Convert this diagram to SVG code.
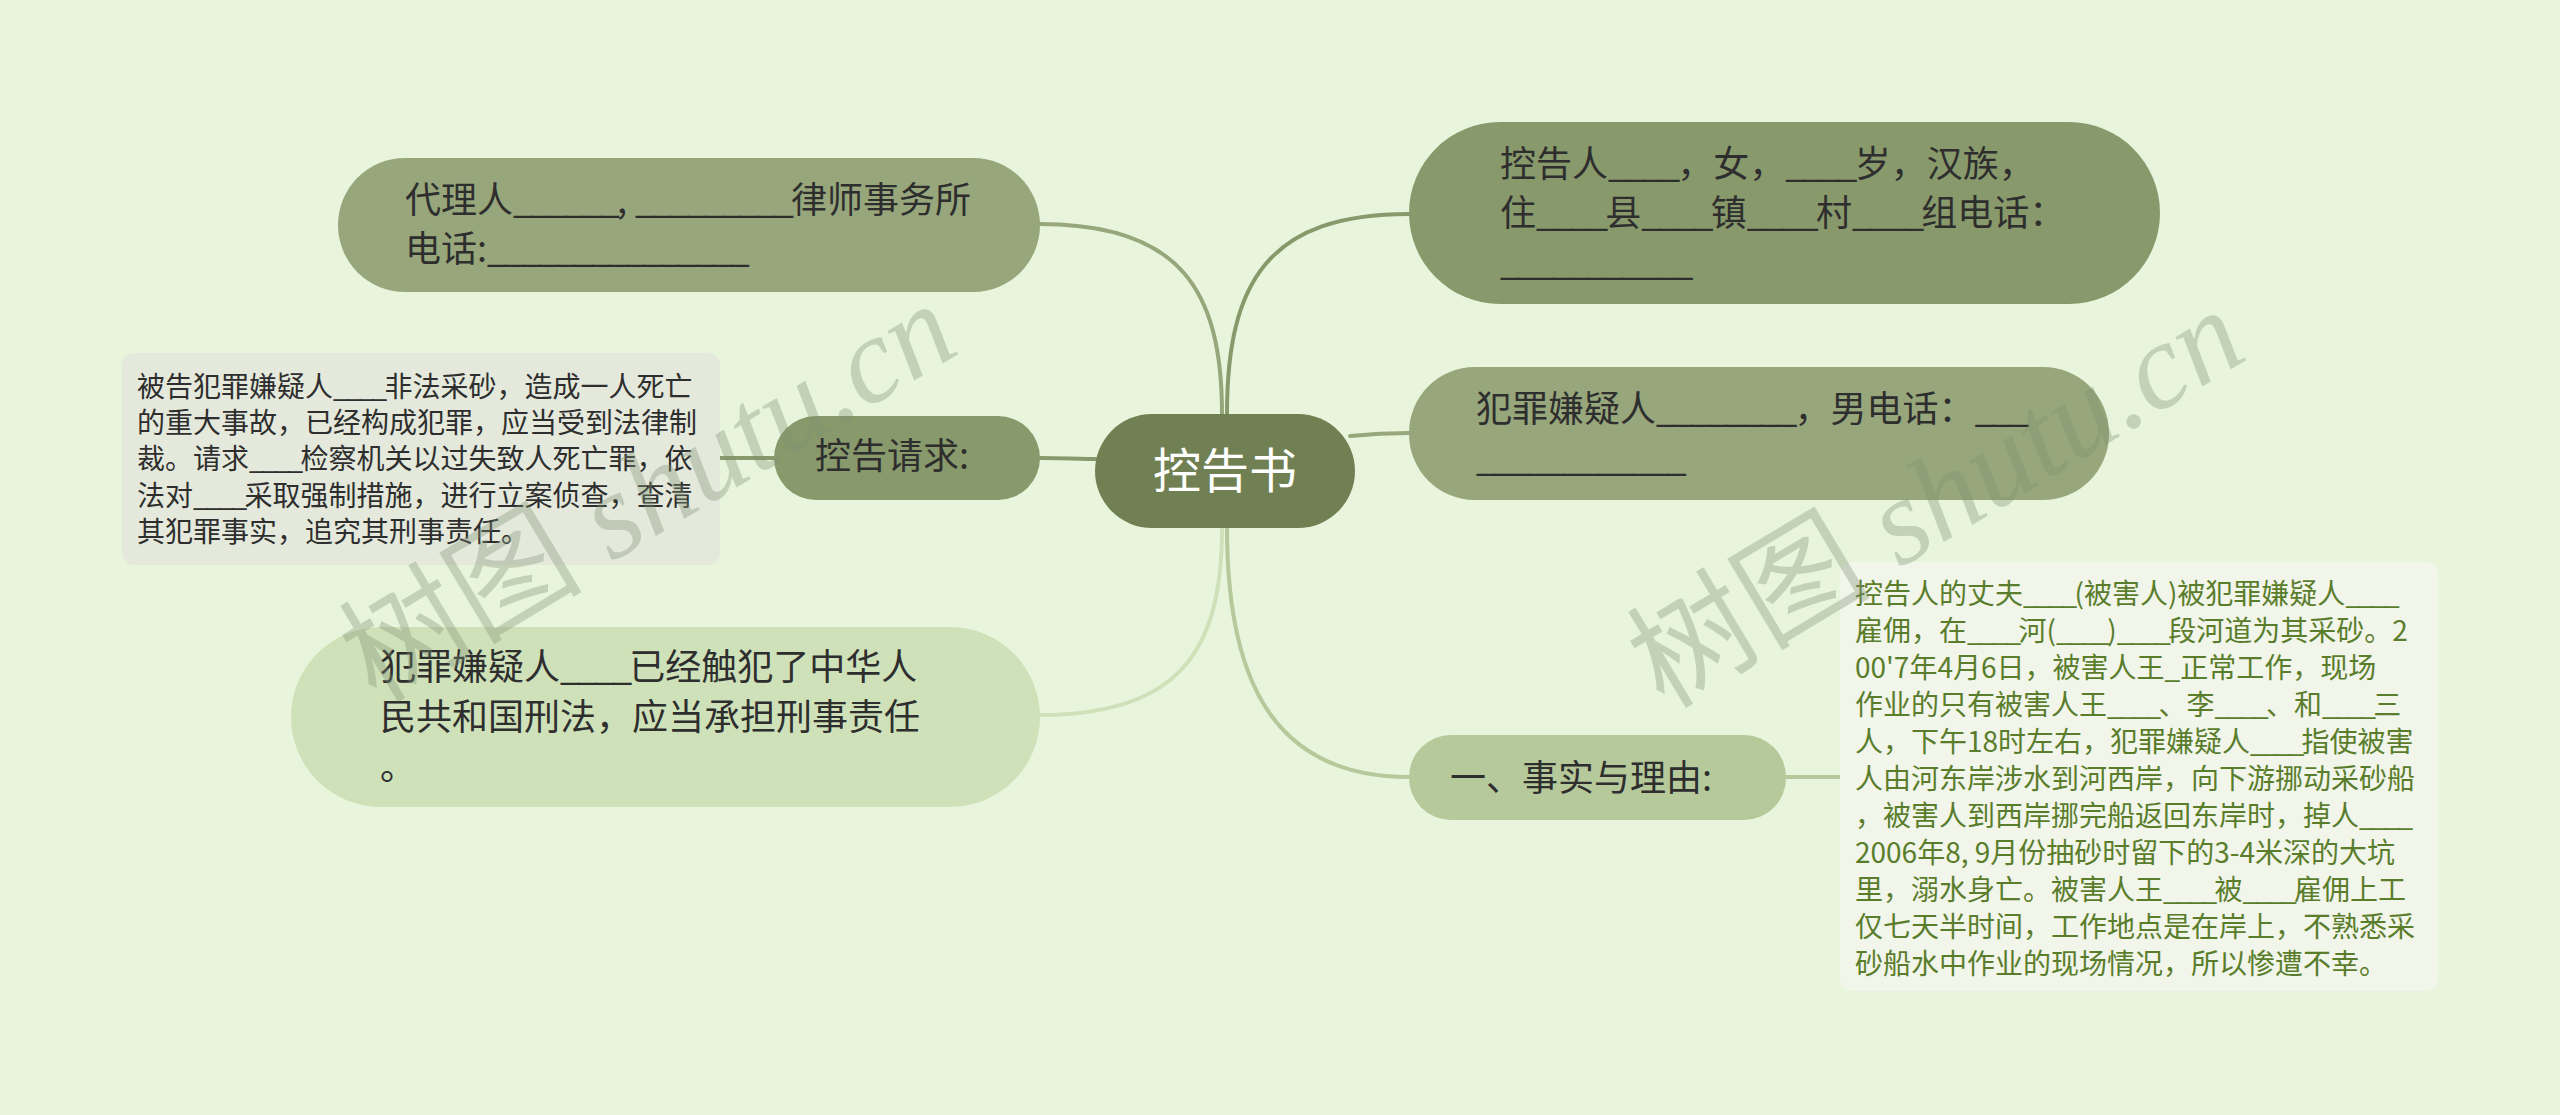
<svg xmlns="http://www.w3.org/2000/svg" width="2560" height="1115" viewBox="0 0 2560 1115">
<style>
.t{font-family:"Microsoft YaHei","Noto Sans CJK SC","Noto Sans",sans-serif;fill:#2e2e2e}
.n36{font-size:36px}
.d28{font-size:28px}
.n36 .u{letter-spacing:-2.8px}
.d28 .u{letter-spacing:-2.8px}
.g{fill:#5a7d2c}
.c{fill:none;stroke-width:4;stroke-linecap:round}
.wm{font-family:"Liberation Serif","Noto Sans CJK SC",serif;font-size:122px;fill:#7f9174;opacity:0.35}
</style>
<rect width="2560" height="1115" fill="#e8f5dc"/>
<g id="connectors">
<path class="c" stroke="#97a77b" d="M1222,414 C1222,290 1180,224 1040,224"/>
<path class="c" stroke="#88996b" d="M1227,414 C1227,280 1270,214 1409,214"/>
<path class="c" stroke="#97a77b" d="M1350,436 C1370,434 1390,433 1409,433"/>
<path class="c" stroke="#88996b" d="M1100,459 C1080,459 1060,458 1040,458"/>
<path class="c" stroke="#88996b" d="M774,458 L720,458"/>
<path class="c" stroke="#cfe1b9" d="M1222,528 C1222,650 1180,715 1040,715"/>
<path class="c" stroke="#b5c99b" d="M1227,528 C1227,690 1280,777 1409,777"/>
<path class="c" stroke="#b5c99b" d="M1786,777 L1840,777"/>
</g>
<g id="center">
<rect x="1095" y="414" width="260" height="114" rx="57" fill="#718053"/>
<text class="t" x="1225" y="488" font-size="48" text-anchor="middle" style="fill:#ffffff">控告书</text>
</g>
<g id="agent">
<rect x="338" y="158" width="702" height="134" rx="67" fill="#97a77b"/>
<text class="t n36" x="405" y="213">代理人<tspan class="u">______</tspan>, <tspan class="u">_________</tspan>律师事务所</text>
<text class="t n36" x="405" y="262">电话:<tspan class="u">_______________</tspan></text>
</g>
<g id="plaintiff">
<rect x="1409" y="122" width="751" height="182" rx="91" fill="#88996b"/>
<text class="t n36" x="1500" y="177">控告人<tspan class="u">____</tspan>，女，<tspan class="u">____</tspan>岁，汉族，</text>
<text class="t n36" x="1500" y="226">住<tspan class="u">____</tspan>县<tspan class="u">____</tspan>镇<tspan class="u">____</tspan>村<tspan class="u">____</tspan>组电话：</text>
<text class="t n36" x="1500" y="275"><tspan class="u">___________</tspan></text>
</g>
<g id="suspect">
<rect x="1409" y="367" width="700" height="133" rx="66" fill="#97a77b"/>
<text class="t n36" x="1476" y="422">犯罪嫌疑人<tspan class="u">________</tspan>，男电话：<tspan class="u">___</tspan></text>
<text class="t n36" x="1476" y="471"><tspan class="u">____________</tspan></text>
</g>
<g id="request">
<rect x="774" y="416" width="266" height="84" rx="42" fill="#88996b"/>
<text class="t n36" x="815" y="469">控告请求:</text>
</g>
<g id="request-detail">
<rect x="122" y="353" width="598" height="212" rx="12" fill="#e4e9dc"/>
<text class="t d28" x="137" y="397">被告犯罪嫌疑人<tspan class="u">____</tspan>非法采砂，造成一人死亡</text>
<text class="t d28" x="137" y="433">的重大事故，已经构成犯罪，应当受到法律制</text>
<text class="t d28" x="137" y="469">裁。请求<tspan class="u">____</tspan>检察机关以过失致人死亡罪，依</text>
<text class="t d28" x="137" y="506">法对<tspan class="u">____</tspan>采取强制措施，进行立案侦查，查清</text>
<text class="t d28" x="137" y="542">其犯罪事实，追究其刑事责任。</text>
</g>
<g id="liability">
<rect x="291" y="627" width="749" height="180" rx="90" fill="#cfe1b9"/>
<text class="t n36" x="380" y="680">犯罪嫌疑人<tspan class="u">____</tspan>已经触犯了中华人</text>
<text class="t n36" x="380" y="730">民共和国刑法，应当承担刑事责任</text>
<text class="t n36" x="380" y="780">。</text>
</g>
<g id="facts">
<rect x="1409" y="735" width="377" height="85" rx="42" fill="#b5c99b"/>
<text class="t n36" x="1450" y="791">一、事实与理由:</text>
</g>
<g id="facts-detail">
<rect x="1840" y="562" width="598" height="429" rx="12" fill="#f1f5ea"/>
<text class="t d28 g" x="1855" y="604">控告人的丈夫<tspan class="u">____</tspan>(被害人)被犯罪嫌疑人<tspan class="u">____</tspan></text>
<text class="t d28 g" x="1855" y="641">雇佣，在<tspan class="u">____</tspan>河(<tspan class="u">____</tspan>)<tspan class="u">____</tspan>段河道为其采砂。2</text>
<text class="t d28 g" x="1855" y="678">00'7年4月6日，被害人王_正常工作，现场</text>
<text class="t d28 g" x="1855" y="715">作业的只有被害人王<tspan class="u">____</tspan>、李<tspan class="u">____</tspan>、和<tspan class="u">____</tspan>三</text>
<text class="t d28 g" x="1855" y="752">人，下午18时左右，犯罪嫌疑人<tspan class="u">____</tspan>指使被害</text>
<text class="t d28 g" x="1855" y="789">人由河东岸涉水到河西岸，向下游挪动采砂船</text>
<text class="t d28 g" x="1855" y="826">，被害人到西岸挪完船返回东岸时，掉人<tspan class="u">____</tspan></text>
<text class="t d28 g" x="1855" y="863">2006年8, 9月份抽砂时留下的3-4米深的大坑</text>
<text class="t d28 g" x="1855" y="900">里，溺水身亡。被害人王<tspan class="u">____</tspan>被<tspan class="u">____</tspan>雇佣上工</text>
<text class="t d28 g" x="1855" y="937">仅七天半时间，工作地点是在岸上，不熟悉采</text>
<text class="t d28 g" x="1855" y="974">砂船水中作业的现场情况，所以惨遭不幸。</text>
</g>
<g id="watermark">
<text class="wm" transform="translate(376,704) rotate(-31)">树图 <tspan font-style="italic">shutu.cn</tspan></text>
<text class="wm" transform="translate(1664,710) rotate(-31)">树图 <tspan font-style="italic">shutu.cn</tspan></text>
</g>
</svg>
